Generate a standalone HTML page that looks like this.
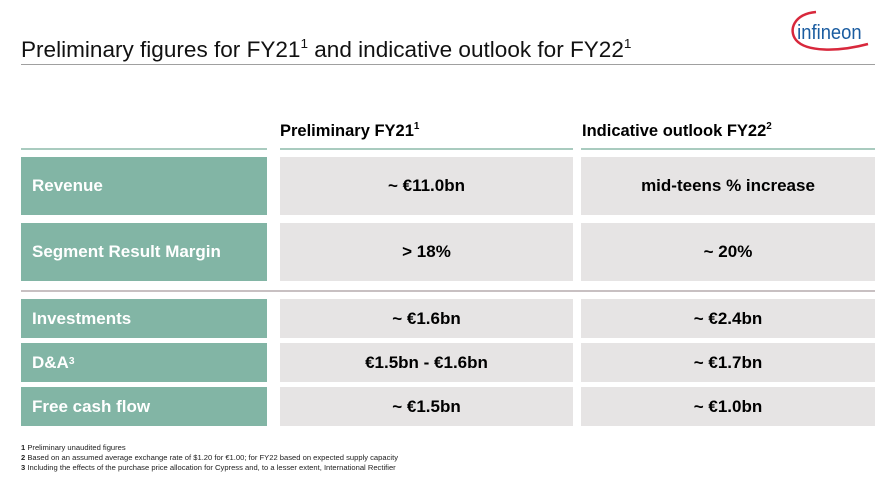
<!DOCTYPE html>
<html><head><meta charset="utf-8"><style>
body{margin:0;width:894px;height:478px;background:#fff;font-family:"Liberation Sans",Arial,sans-serif;position:relative;overflow:hidden}
.a{position:absolute}
.lab{position:absolute;left:21px;width:246px;background:#82b5a5;color:#fff;font-weight:bold;font-size:17px;box-sizing:border-box;padding-left:11px;display:flex;align-items:center}
.c{position:absolute;background:#e6e4e4;color:#000;font-weight:bold;font-size:17px;display:flex;align-items:center;justify-content:center}
.c1{left:280px;width:293px}.c2{left:581px;width:294px}
sup{font-size:60%;vertical-align:top;position:relative;top:-1px}
.fn{position:absolute;left:21px;font-size:7.6px;color:#222;white-space:nowrap}
</style></head><body>
<div class="a" style="left:21px;top:37px;font-size:22px;color:#111;transform:scaleX(1.025);transform-origin:left top;white-space:nowrap">Preliminary figures for FY21<sup>1</sup> and indicative outlook for FY22<sup>1</sup></div>
<div class="a" style="left:21px;top:64px;width:854px;height:1px;background:#a0a0a0"></div>
<div class="a" style="left:788px;top:8px;width:90px;height:46px">
<svg width="90" height="46"><path d="M28 4 C6 6 0 22 8 32 C18 44 50 44 80 36" fill="none" stroke="#d8283c" stroke-width="2.5"/><text x="10" y="31" font-family="Liberation Sans" font-size="20" fill="#1a5ca0" transform="scale(0.92,1)">infineon</text></svg></div>
<div class="a" style="left:280px;top:122px;font-size:16.5px;font-weight:bold">Preliminary FY21<sup>1</sup></div>
<div class="a" style="left:582px;top:122px;font-size:16.5px;font-weight:bold">Indicative outlook FY22<sup>2</sup></div>
<div class="a" style="left:21px;top:148px;width:246px;height:2px;background:#a9cbbf"></div>
<div class="a" style="left:280px;top:148px;width:293px;height:2px;background:#a9cbbf"></div>
<div class="a" style="left:581px;top:148px;width:294px;height:2px;background:#a9cbbf"></div>

<div class="lab" style="top:157px;height:58px">Revenue</div>
<div class="c c1" style="top:157px;height:58px">~ €11.0bn</div>
<div class="c c2" style="top:157px;height:58px">mid-teens % increase</div>

<div class="lab" style="top:223px;height:58px">Segment Result Margin</div>
<div class="c c1" style="top:223px;height:58px">&gt; 18%</div>
<div class="c c2" style="top:223px;height:58px">~ 20%</div>

<div class="a" style="left:21px;top:290px;width:854px;height:2px;background:#c8c0c2"></div>

<div class="lab" style="top:299px;height:39px">Investments</div>
<div class="c c1" style="top:299px;height:39px">~ €1.6bn</div>
<div class="c c2" style="top:299px;height:39px">~ €2.4bn</div>

<div class="lab" style="top:343px;height:39px">D&amp;A<sup>3</sup></div>
<div class="c c1" style="top:343px;height:39px">€1.5bn - €1.6bn</div>
<div class="c c2" style="top:343px;height:39px">~ €1.7bn</div>

<div class="lab" style="top:387px;height:39px">Free cash flow</div>
<div class="c c1" style="top:387px;height:39px">~ €1.5bn</div>
<div class="c c2" style="top:387px;height:39px">~ €1.0bn</div>

<div class="fn" style="top:443px"><b>1</b> Preliminary unaudited figures</div>
<div class="fn" style="top:453px"><b>2</b> Based on an assumed average exchange rate of $1.20 for €1.00; for FY22 based on expected supply capacity</div>
<div class="fn" style="top:463px"><b>3</b> Including the effects of the purchase price allocation for Cypress and, to a lesser extent, International Rectifier</div>
</body></html>
